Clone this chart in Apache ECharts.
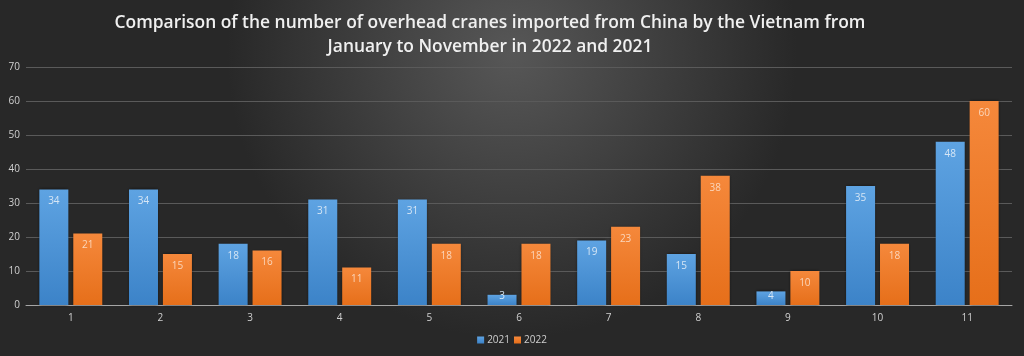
<!DOCTYPE html>
<html>
<head>
<meta charset="utf-8">
<script src="https://cdn.jsdelivr.net/npm/echarts@6/dist/echarts.min.js"></script>
<style>
html,body{margin:0;padding:0;background:#333;}
#chart{width:1024px;height:356px;}
</style>
</head>
<body>
<div id="chart"></div>
<script>
const titleText = 'Comparison of the number of overhead cranes imported from China by the Vietnam from\nJanuary to November in 2022 and 2021';
const categories = ['1','2','3','4','5','6','7','8','9','10','11'];
const seriesNames = ['2021','2022'];
const values2021 = [34,34,18,31,31,3,19,15,4,35,48];
const values2022 = [21,15,16,11,18,18,23,38,10,18,60];
const yTicks = [0,10,20,30,40,50,60,70];

const chart = echarts.init(document.getElementById('chart'), null, {renderer:'canvas'});

function grad(top, bottom){
  return new echarts.graphic.LinearGradient(0,0,0,1,[{offset:0,color:top},{offset:1,color:bottom}]);
}
function mkData(vals){
  return vals.map(v => v < 6 ? {value:v, label:{position:'insideBottom', distance:4}} : v);
}

chart.setOption({
  backgroundColor: new echarts.graphic.RadialGradient(0.5,0.15,0.8,[
    {offset:0,color:'#575757'},{offset:1,color:'#282828'}
  ]),
  animation:false,
  title:{
    text:titleText,
    left:485,
    textAlign:'center',
    top:6,
    textStyle:{color:'#f0f0f0',fontFamily:'Open Sans',fontWeight:600,fontSize:17.4,lineHeight:24}
  },
  legend:{
    data:seriesNames,
    bottom:6,
    left:'center',
    itemWidth:7,itemHeight:7,itemGap:4,
    icon:'rect',
    textStyle:{color:'#cfcfcf',fontFamily:'Open Sans',fontSize:10,padding:[0,0,0,-2]}
  },
  grid:{left:26,right:12,top:67,bottom:51,containLabel:false},
  xAxis:{
    type:'category',
    data:categories,
    axisLine:{lineStyle:{color:'#a6a6a6',width:1}},
    axisTick:{show:false},
    axisLabel:{color:'#d0d0d0',fontFamily:'Open Sans',fontSize:10,margin:8}
  },
  yAxis:{
    type:'value',
    min:yTicks[0],max:yTicks[yTicks.length-1],interval:10,
    axisLine:{show:false},axisTick:{show:false},
    axisLabel:{color:'#d0d0d0',fontFamily:'Open Sans',fontSize:10,margin:6},
    splitLine:{lineStyle:{color:'#5a5a5a',width:1}}
  },
  series:[
    {
      name:seriesNames[0],type:'bar',data:mkData(values2021),
      barWidth:29,barGap:'17%',
      itemStyle:{color:grad('#5ea3e2','#3c83c8'),shadowColor:'rgba(0,0,0,0.55)',shadowBlur:3},
      label:{show:true,position:'insideTop',distance:7,color:'#d6e6f5',fontFamily:'Open Sans',fontSize:10}
    },
    {
      name:seriesNames[1],type:'bar',data:mkData(values2022),
      barWidth:29,barGap:'17%',
      itemStyle:{color:grad('#f5883b','#e66f1a'),shadowColor:'rgba(0,0,0,0.55)',shadowBlur:3},
      label:{show:true,position:'insideTop',distance:7,color:'#fbd6bb',fontFamily:'Open Sans',fontSize:10}
    }
  ]
});
</script>
</body>
</html>
